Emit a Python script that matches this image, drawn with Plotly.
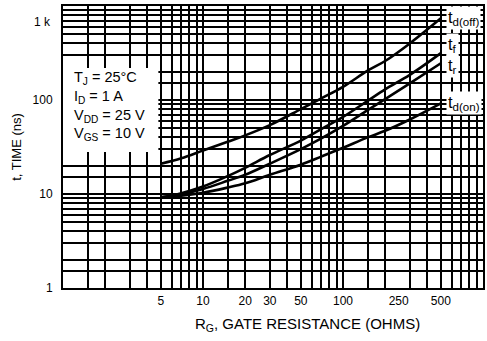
import plotly.graph_objects as go
import math

# ---- data ----
rg = [5, 7, 10, 15, 20, 30, 50, 70, 100, 150, 200, 300, 500]
td_off = [21, 24, 29, 36, 42, 54, 80, 104, 138, 205, 260, 400, 740]
t_f = [9.2, 10.2, 12, 15.5, 19, 26, 37, 49, 66, 98, 130, 185, 315]
t_r = [9.2, 9.9, 11.3, 13.8, 16, 21, 30, 39, 53, 78, 102, 150, 246]
td_on = [9.2, 9.6, 10.3, 11.7, 13, 16, 20.5, 25, 31, 40, 47, 62, 92]

series_names = ["t<sub>d(off)</sub>", "t<sub>f</sub>", "t<sub>r</sub>", "t<sub>d(on)</sub>"]
series_vals = [td_off, t_f, t_r, td_on]
series_axes = [("x", "y"), ("x", "y"), ("x2", "y2"), ("x2", "y2")]
label_yshift = [0, 8, -3, 0]

x_tickvals = [5, 10, 20, 30, 50, 100, 250, 500]
x_ticktext = ["5", "10", "20", "30", "50", "100", "250", "500"]
y_tickvals = [1, 10, 100]
y_ticktext = ["1", "10", "100"]

grid_mult = [1, 1.5, 2, 3, 4, 5, 6, 7, 8, 9]
grid_vals = [m * d for d in (1, 10, 100) for m in grid_mult] + [1000]

conditions = ["T<sub>J</sub> = 25°C", "I<sub>D</sub> = 1 A",
              "V<sub>DD</sub> = 25 V", "V<sub>GS</sub> = 10 V"]

FONT = "Liberation Sans, Arial, sans-serif"

fig = go.Figure()
for name, vals, (xa, ya) in zip(series_names, series_vals, series_axes):
    fig.add_trace(go.Scatter(x=rg, y=vals, mode="lines", name=name, xaxis=xa, yaxis=ya,
                             line=dict(color="black", width=2.6, shape="spline"),
                             showlegend=False))

# white box behind the conditions text
fig.add_shape(type="rect", xref="x", yref="y", x0=1, x1=4.8, y0=28, y1=219,
              fillcolor="white", line=dict(width=0), layer="between")

annotations = []
for i, t in enumerate(conditions):
    annotations.append(dict(xref="paper", yref="paper", x=0.022, y=[0.745, 0.678, 0.611, 0.546][i],
                            xanchor="left", yanchor="middle", text=t, showarrow=False,
                            font=dict(family=FONT, size=14.5, color="black")))
for name, vals, ys in zip(series_names, series_vals, label_yshift):
    annotations.append(dict(xref="x", yref="y", x=math.log10(rg[-1]), y=math.log10(vals[-1]),
                            xanchor="left", yanchor="middle", xshift=5, yshift=ys,
                            text=name, showarrow=False, bgcolor="white",
                            font=dict(family=FONT, size=16.5, color="black")))
annotations.append(dict(xref="paper", yref="y", x=0, y=3, xanchor="right", yanchor="middle",
                        xshift=-10, yshift=-16, text="1 k", showarrow=False,
                        font=dict(family=FONT, size=12, color="black")))
annotations.append(dict(xref="paper", yref="paper", x=0.583, y=-0.131, xanchor="center",
                        yanchor="middle", text="R<sub>G</sub>, GATE RESISTANCE (OHMS)",
                        showarrow=False, font=dict(family=FONT, size=15, color="black")))

GRID_W = 1.5
fig.update_layout(
    width=487, height=341,
    margin=dict(l=63, r=2, t=6, b=53),
    paper_bgcolor="white", plot_bgcolor="white",
    font=dict(family=FONT, size=12, color="black"),
    annotations=annotations,
    xaxis=dict(type="log", range=[0, 3], tickmode="array", tickvals=x_tickvals,
               ticktext=x_ticktext, showgrid=False, zeroline=False, ticks="",
               showline=True, linecolor="black", linewidth=2, mirror=True,
               tickfont=dict(family=FONT, size=12, color="black"), ticklabelstandoff=1),
    xaxis2=dict(type="log", range=[0, 3], overlaying="x", anchor="y2", tickmode="array",
                tickvals=grid_vals, showticklabels=False, showgrid=True,
                gridcolor="black", gridwidth=GRID_W, zeroline=False, ticks=""),
    yaxis=dict(type="log", range=[0, 3], tickmode="array", tickvals=y_tickvals,
               ticktext=y_ticktext, showgrid=False, zeroline=False, ticks="",
               showline=True, linecolor="black", linewidth=2, mirror=True,
               tickfont=dict(family=FONT, size=12, color="black"), ticklabelstandoff=6,
               title=dict(text="t, TIME (ns)", standoff=8,
                          font=dict(family=FONT, size=13, color="black"))),
    yaxis2=dict(type="log", range=[0, 3], overlaying="y", anchor="x2", tickmode="array",
                tickvals=grid_vals, showticklabels=False, showgrid=True,
                gridcolor="black", gridwidth=GRID_W, zeroline=False, ticks=""),
)

fig.write_html("out.html")
